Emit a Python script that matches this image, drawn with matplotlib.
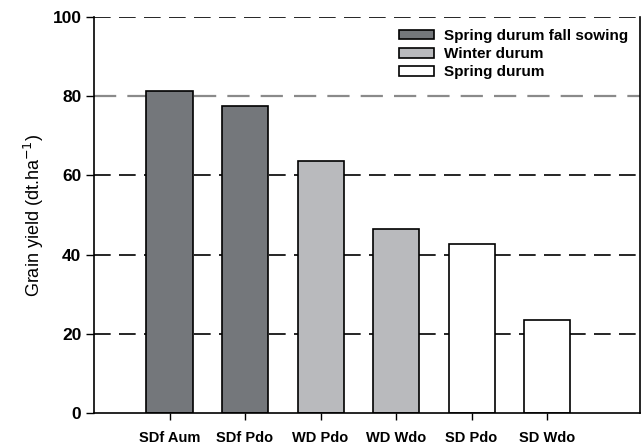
import matplotlib
matplotlib.use("Agg")
import matplotlib.pyplot as plt
from matplotlib.patches import Patch

# Data
categories = ["SDf Aum", "SDf Pdo", "WD Pdo", "WD Wdo", "SD Pdo", "SD Wdo"]
yields = [81.3, 77.6, 63.6, 46.5, 42.7, 23.5]
groups = ["Spring durum fall sowing", "Spring durum fall sowing",
          "Winter durum", "Winter durum", "Spring durum", "Spring durum"]
group_names = ["Spring durum fall sowing", "Winter durum", "Spring durum"]
group_colors = {"Spring durum fall sowing": "#74777b",
                "Winter durum": "#b9babd",
                "Spring durum": "#ffffff"}

plt.rcParams["font.family"] = ["Liberation Sans", "DejaVu Sans"]

fig = plt.figure(figsize=(6.42, 4.45), dpi=100)
ax = fig.add_axes([0.1464, 0.0719, 0.8505, 0.8899])

# grid lines behind bars
for y in [20, 40, 60, 80, 100]:
    col = "#8a8a8a" if y == 80 else "black"
    lw = 1.6 if y == 80 else 1.2
    ax.axhline(y, color=col, linewidth=lw, linestyle=(0, (10, 5)), zorder=0)

x = list(range(len(categories)))
ax.bar(x, yields, width=0.61,
       color=[group_colors[g] for g in groups],
       edgecolor="black", linewidth=1.2, zorder=2)

ax.set_xlim(-1.0, 6.23)
ax.set_ylim(0, 100)
ax.set_yticks([0, 20, 40, 60, 80, 100])
ax.set_xticks(x)
ax.set_xticklabels(categories, fontsize=10.5, fontweight="bold")
ax.tick_params(axis="y", labelsize=12.5, length=6, width=1, direction="out", pad=3)
ax.tick_params(axis="x", length=5, width=1, direction="out", pad=8)
for lab in ax.get_yticklabels():
    lab.set_fontweight("bold")

ax.spines["top"].set_visible(False)
for s in ["left", "right", "bottom"]:
    ax.spines[s].set_linewidth(1.2)

ax.set_ylabel("Grain yield (dt.ha$^{-1}$)", fontsize=13, labelpad=5)

handles = [Patch(facecolor=group_colors[g], edgecolor="black", linewidth=1.2)
           for g in group_names]
leg = ax.legend(handles, group_names, loc="upper right", frameon=False,
                prop={"size": 11, "weight": "bold"},
                bbox_to_anchor=(1.0, 1.0),
                handlelength=2.35, handleheight=0.55,
                labelspacing=0.27, handletextpad=0.6,
                borderpad=0.3)

fig.savefig("out.png", dpi=100)
